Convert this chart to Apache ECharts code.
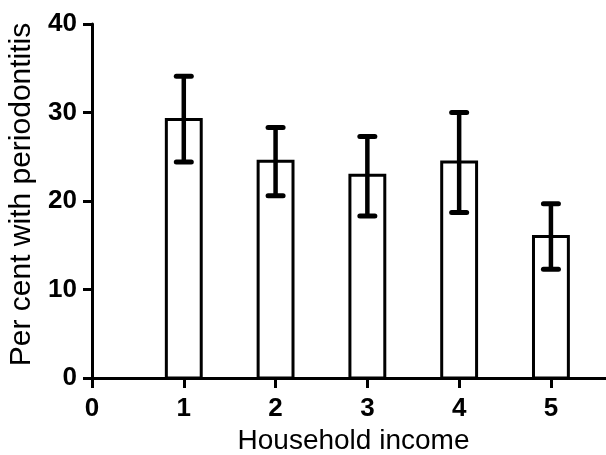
<!DOCTYPE html>
<html>
<head>
<meta charset="utf-8">
<script src="https://cdn.jsdelivr.net/npm/echarts@6/dist/echarts.min.js"></script>
<style>
  html, body { margin: 0; padding: 0; background: #fff; }
  #chart { width: 606px; height: 455px; }
</style>
</head>
<body>
<div id="chart"></div>
<script>
// Household income group (1 = lowest ... 5 = highest)
const incomeGroups = [1, 2, 3, 4, 5];
// Per cent with periodontitis in each group
const percentValues = [29.2, 24.5, 22.9, 24.4, 16.0];
// 95% confidence limits
const upperLimits = [34.1, 28.3, 27.3, 30.0, 19.7];
const lowerLimits = [24.4, 20.6, 18.3, 18.7, 12.3];
// Tick values on each axis
const xTicks = [0, 1, 2, 3, 4, 5];
const yTicks = [0, 10, 20, 30, 40];

const FONT = "'Liberation Sans', Arial, Helvetica, sans-serif";
const BAR_WIDTH = 0.38;   // in x-axis units
const CAP_HALF = 7.5;     // px

const rows = incomeGroups.map((g, i) => [g, percentValues[i], upperLimits[i], lowerLimits[i]]);

const chart = echarts.init(document.getElementById('chart'), null, { renderer: 'canvas' });

chart.setOption({
  animation: false,
  backgroundColor: '#ffffff',
  grid: { left: 92, top: 24, right: 0, bottom: 77, containLabel: false, outerBoundsMode: 'none' },
  xAxis: {
    type: 'value',
    min: xTicks[0],
    max: 5.6,
    interval: 1,
    name: 'Household income',
    nameLocation: 'middle',
    nameGap: 47,
    nameTextStyle: { fontFamily: FONT, fontSize: 28, color: '#000', padding: [0, 0, 0, 9] },
    axisLine: { show: true, onZero: false, lineStyle: { color: '#000', width: 3 } },
    axisTick: { show: true, length: 10, customValues: xTicks, lineStyle: { color: '#000', width: 3 } },
    axisLabel: {
      margin: 18,
      customValues: xTicks,
      fontFamily: FONT, fontSize: 26, fontWeight: 'bold', color: '#000'
    },
    splitLine: { show: false }
  },
  yAxis: {
    type: 'value',
    min: yTicks[0],
    max: yTicks[yTicks.length - 1],
    interval: 10,
    name: 'Per cent with periodontitis',
    nameLocation: 'middle',
    nameGap: 45,
    nameTextStyle: { fontFamily: FONT, fontSize: 30, color: '#000', padding: [0, 0, 0, 13] },
    axisLine: { show: true, lineStyle: { color: '#000', width: 3 } },
    axisTick: { show: true, length: 9, lineStyle: { color: '#000', width: 3 } },
    axisLabel: {
      margin: 15,
      fontFamily: FONT, fontSize: 26, fontWeight: 'bold', color: '#000'
    },
    splitLine: { show: false }
  },
  series: [
    {
      type: 'custom',
      data: rows,
      encode: { x: 0, y: [1, 2, 3] },
      renderItem: function (params, api) {
        const x = api.value(0);
        const base = api.coord([x, 0]);
        const top = api.coord([x, api.value(1)]);
        const hi = api.coord([x, api.value(2)]);
        const lo = api.coord([x, api.value(3)]);
        const w = api.size([BAR_WIDTH, 0])[0];
        const cx = base[0];
        return {
          type: 'group',
          children: [
            {
              type: 'rect',
              shape: { x: cx - w / 2, y: top[1], width: w, height: base[1] - top[1] },
              style: { fill: '#fff', stroke: '#000', lineWidth: 3 }
            },
            {
              type: 'line',
              shape: { x1: cx, y1: hi[1], x2: cx, y2: lo[1] },
              style: { stroke: '#000', lineWidth: 4.5 }
            },
            {
              type: 'line',
              shape: { x1: cx - CAP_HALF, y1: hi[1], x2: cx + CAP_HALF, y2: hi[1] },
              style: { stroke: '#000', lineWidth: 5, lineCap: 'round' }
            },
            {
              type: 'line',
              shape: { x1: cx - CAP_HALF, y1: lo[1], x2: cx + CAP_HALF, y2: lo[1] },
              style: { stroke: '#000', lineWidth: 5, lineCap: 'round' }
            }
          ]
        };
      }
    }
  ]
});
</script>
</body>
</html>
